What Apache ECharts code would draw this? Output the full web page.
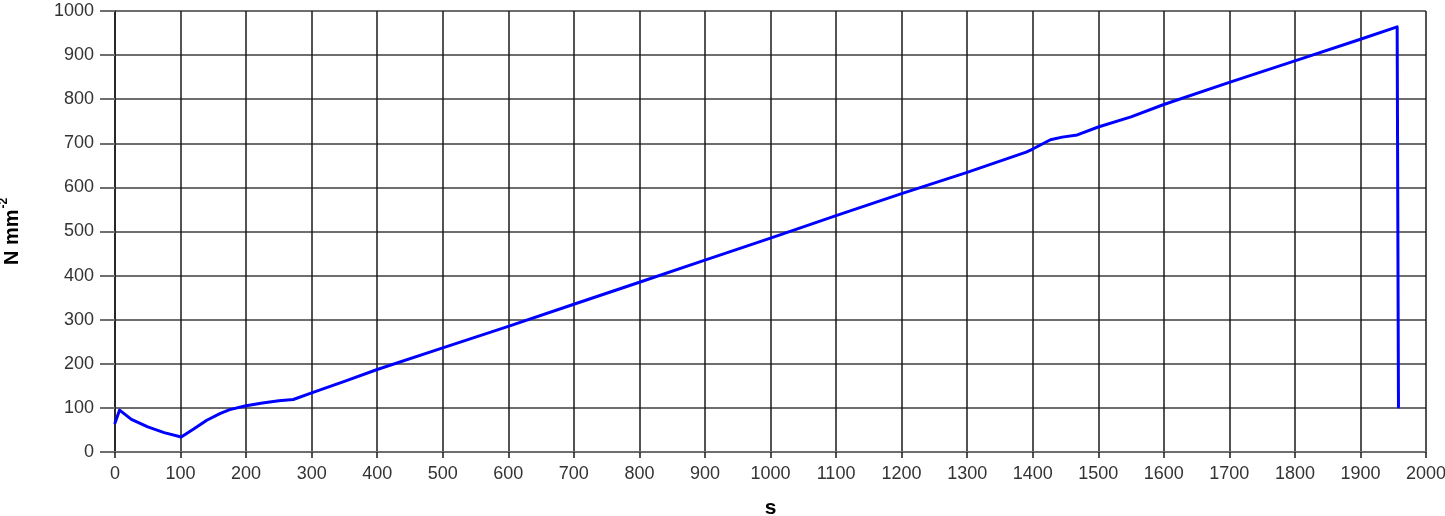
<!DOCTYPE html>
<html>
<head>
<meta charset="utf-8">
<script src="https://cdn.jsdelivr.net/npm/echarts@6/dist/echarts.min.js"></script>
<style>
html,body{margin:0;padding:0;background:#fff;}
#chart{width:1445px;height:516px;}
</style>
</head>
<body>
<div id="chart"></div>
<script>
var timeS = [0, 7, 25, 50, 75, 101, 120, 140, 160, 175, 200, 225, 250, 272, 300, 350, 400, 500, 600, 700, 800, 900, 1000, 1100, 1200, 1300, 1390, 1400, 1427, 1445, 1468, 1500, 1550, 1600, 1700, 1800, 1900, 1956, 1958];
var stress = [66, 95, 74, 57, 44, 34, 52, 72, 87, 96, 105, 111, 116, 119, 134, 160, 187, 236, 285, 335, 385, 435, 485, 536, 586, 634, 680, 687, 708, 714, 719, 737, 760, 788, 838, 887, 936, 964, 102];
var xTicks = {min: 0, max: 2000, interval: 100};
var yTicks = {min: 0, max: 1000, interval: 100};
var xName = 's';
var yName = 'N mm';
var ySup = '-2';

var points = timeS.map(function (s, i) { return [s, stress[i]]; });
function plain(v) { return String(v); }

var chart = echarts.init(document.getElementById('chart'), null, {renderer: 'canvas'});
chart.setOption({
  animation: false,
  backgroundColor: '#ffffff',
  grid: {left: 115, right: 19, top: 11, bottom: 64, containLabel: false, outerBoundsMode: 'none'},
  xAxis: {
    type: 'value',
    min: xTicks.min, max: xTicks.max, interval: xTicks.interval,
    name: xName,
    nameLocation: 'middle',
    nameGap: 46,
    nameTextStyle: {fontFamily: 'Liberation Sans, Arial', fontWeight: 'bold', fontSize: 21, color: '#000'},
    axisLine: {show: true, lineStyle: {color: '#6e6e6e', width: 2}},
    axisTick: {show: true, length: 6, lineStyle: {color: '#1a1a1a', width: 1.5}},
    axisLabel: {margin: 13, fontFamily: 'Liberation Sans, Arial', fontSize: 18, color: '#333', formatter: plain},
    splitLine: {show: true, lineStyle: {color: '#1a1a1a', width: 1.5}}
  },
  yAxis: {
    type: 'value',
    min: yTicks.min, max: yTicks.max, interval: yTicks.interval,
    name: '{a|' + yName + '}{b|' + ySup + '}',
    nameLocation: 'middle',
    nameGap: 93,
    nameRotate: 90,
    nameTextStyle: {
      rich: {
        a: {fontFamily: 'Liberation Sans, Arial', fontWeight: 'bold', fontSize: 20, color: '#000', lineHeight: 24, verticalAlign: 'bottom'},
        b: {fontFamily: 'Liberation Sans, Arial', fontWeight: 'bold', fontSize: 12, color: '#000', lineHeight: 24, verticalAlign: 'top', padding: [0, 0, 10, 1]}
      }
    },
    axisLine: {show: true, lineStyle: {color: '#1a1a1a', width: 1.5}},
    axisTick: {show: true, length: 15, lineStyle: {color: '#6e6e6e', width: 2}},
    axisLabel: {margin: 21, fontFamily: 'Liberation Sans, Arial', fontSize: 18, color: '#333', formatter: plain},
    splitLine: {show: true, lineStyle: {color: '#6e6e6e', width: 2}}
  },
  series: [{
    type: 'line',
    data: points,
    showSymbol: false,
    smooth: false,
    lineStyle: {color: '#0000ff', width: 3, join: 'round', cap: 'round'},
    clip: true
  }]
});
</script>
</body>
</html>
